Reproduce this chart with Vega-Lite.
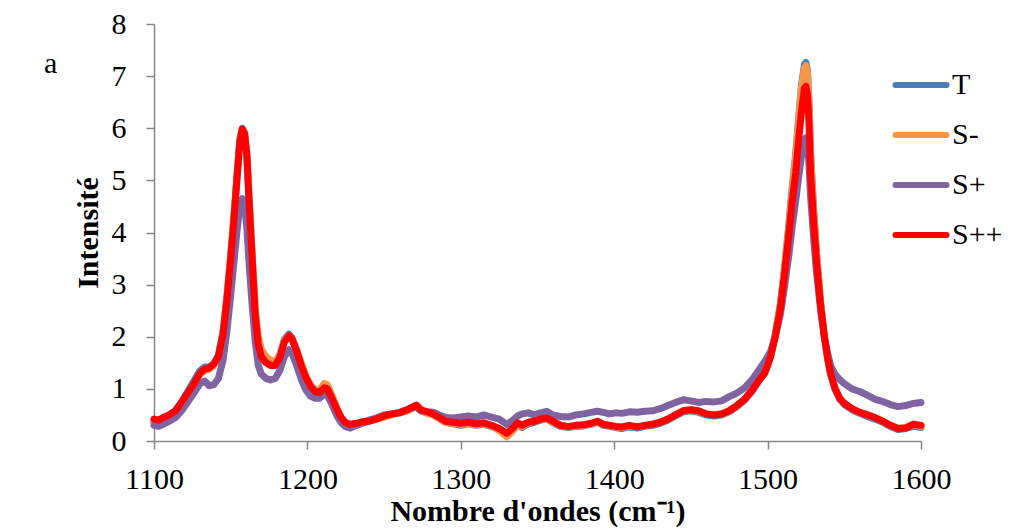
{
  "$schema": "https://vega.github.io/schema/vega-lite/v6.json",
  "autosize": {"type": "none"},
  "width": 767,
  "height": 417,
  "padding": {"left": 154, "top": 24, "right": 91, "bottom": 88},
  "background": "white",
  "title": {"text": "a", "anchor": "start", "frame": "group", "orient": "top", "font": "Liberation Serif", "fontSize": 30, "fontWeight": "normal", "color": "black", "baseline": "alphabetic", "offset": 0, "dx": -110, "dy": 94},
  "config": {
    "view": {"stroke": null},
    "axis": {"grid": false, "domainColor": "#868686", "domainWidth": 1.5, "tickColor": "#868686", "tickWidth": 1.5, "tickSize": 8, "labelFont": "Liberation Serif", "labelFontSize": 30, "labelColor": "black", "titleFont": "Liberation Serif", "titleFontSize": 30, "titleFontWeight": "bold", "titleColor": "black", "labelFlush": false, "labelOverlap": false},
    "legend": {"orient": "none", "legendX": 751, "legendY": 45, "padding": 0, "labelFont": "Liberation Serif", "labelFontSize": 30, "labelColor": "black", "symbolType": "M-2,0H2", "symbolSize": 650, "symbolStrokeWidth": 6, "labelOffset": 15, "rowPadding": 19}
  },
  "datasets": {
    "T": [{"x":1100,"y":0.35},{"x":1103,"y":0.36},{"x":1106,"y":0.42},{"x":1110,"y":0.5},{"x":1114,"y":0.58},{"x":1118,"y":0.75},{"x":1122,"y":0.95},{"x":1126,"y":1.15},{"x":1130,"y":1.35},{"x":1133,"y":1.42},{"x":1136,"y":1.42},{"x":1139,"y":1.48},{"x":1142,"y":1.65},{"x":1145,"y":2.1},{"x":1147.5,"y":2.75},{"x":1150,"y":3.55},{"x":1152,"y":4.25},{"x":1154,"y":5.05},{"x":1156,"y":5.8},{"x":1157.5,"y":6.0},{"x":1159,"y":5.92},{"x":1160.5,"y":5.5},{"x":1162,"y":4.6},{"x":1164,"y":3.5},{"x":1166,"y":2.45},{"x":1168,"y":1.9},{"x":1170,"y":1.68},{"x":1173,"y":1.55},{"x":1176,"y":1.5},{"x":1179,"y":1.5},{"x":1182,"y":1.65},{"x":1185,"y":1.95},{"x":1188,"y":2.05},{"x":1190,"y":1.98},{"x":1193,"y":1.75},{"x":1196,"y":1.45},{"x":1199,"y":1.22},{"x":1202,"y":1.05},{"x":1205,"y":0.95},{"x":1208,"y":0.94},{"x":1211,"y":1.05},{"x":1213,"y":1.02},{"x":1216,"y":0.82},{"x":1219,"y":0.6},{"x":1222,"y":0.42},{"x":1225,"y":0.32},{"x":1228,"y":0.3},{"x":1232,"y":0.33},{"x":1236,"y":0.36},{"x":1240,"y":0.4},{"x":1245,"y":0.44},{"x":1250,"y":0.48},{"x":1255,"y":0.52},{"x":1260,"y":0.54},{"x":1265,"y":0.58},{"x":1269,"y":0.64},{"x":1271,"y":0.66},{"x":1274,"y":0.58},{"x":1278,"y":0.54},{"x":1282,"y":0.5},{"x":1286,"y":0.43},{"x":1290,"y":0.36},{"x":1295,"y":0.33},{"x":1300,"y":0.3},{"x":1305,"y":0.33},{"x":1310,"y":0.3},{"x":1315,"y":0.32},{"x":1320,"y":0.28},{"x":1325,"y":0.22},{"x":1330,"y":0.14},{"x":1334,"y":0.22},{"x":1337,"y":0.3},{"x":1340,"y":0.26},{"x":1344,"y":0.33},{"x":1348,"y":0.36},{"x":1352,"y":0.4},{"x":1356,"y":0.42},{"x":1360,"y":0.35},{"x":1365,"y":0.28},{"x":1370,"y":0.26},{"x":1375,"y":0.28},{"x":1380,"y":0.29},{"x":1385,"y":0.32},{"x":1389,"y":0.36},{"x":1393,"y":0.3},{"x":1397,"y":0.28},{"x":1401,"y":0.26},{"x":1405,"y":0.24},{"x":1410,"y":0.27},{"x":1415,"y":0.25},{"x":1420,"y":0.28},{"x":1425,"y":0.3},{"x":1430,"y":0.34},{"x":1435,"y":0.4},{"x":1440,"y":0.48},{"x":1445,"y":0.56},{"x":1450,"y":0.58},{"x":1455,"y":0.55},{"x":1460,"y":0.5},{"x":1465,"y":0.48},{"x":1470,"y":0.5},{"x":1475,"y":0.56},{"x":1480,"y":0.66},{"x":1485,"y":0.78},{"x":1490,"y":0.96},{"x":1494,"y":1.14},{"x":1498,"y":1.3},{"x":1500,"y":1.46},{"x":1502,"y":1.64},{"x":1505,"y":2.05},{"x":1508.5,"y":2.65},{"x":1511,"y":3.3},{"x":1514,"y":4.2},{"x":1516,"y":4.85},{"x":1518.3,"y":5.5},{"x":1520,"y":6.1},{"x":1522,"y":6.8},{"x":1524,"y":7.22},{"x":1525,"y":7.26},{"x":1526,"y":7.1},{"x":1527,"y":6.5},{"x":1528,"y":5.55},{"x":1530,"y":4.45},{"x":1532,"y":3.55},{"x":1534.6,"y":2.65},{"x":1537,"y":2.0},{"x":1539,"y":1.6},{"x":1541,"y":1.28},{"x":1544,"y":1.0},{"x":1547,"y":0.8},{"x":1550,"y":0.7},{"x":1555,"y":0.6},{"x":1560,"y":0.53},{"x":1565,"y":0.47},{"x":1570,"y":0.42},{"x":1575,"y":0.36},{"x":1580,"y":0.28},{"x":1585,"y":0.22},{"x":1590,"y":0.24},{"x":1595,"y":0.28},{"x":1600,"y":0.26}],
    "Sm": [{"x":1100,"y":0.38},{"x":1103,"y":0.4},{"x":1106,"y":0.44},{"x":1110,"y":0.5},{"x":1114,"y":0.56},{"x":1118,"y":0.72},{"x":1122,"y":0.9},{"x":1126,"y":1.08},{"x":1130,"y":1.28},{"x":1133,"y":1.35},{"x":1136,"y":1.38},{"x":1139,"y":1.45},{"x":1142,"y":1.6},{"x":1145,"y":2.05},{"x":1147.5,"y":2.75},{"x":1150,"y":3.55},{"x":1152,"y":4.25},{"x":1154,"y":5.0},{"x":1156,"y":5.75},{"x":1157.5,"y":5.98},{"x":1159,"y":5.92},{"x":1160.5,"y":5.55},{"x":1162,"y":4.7},{"x":1164,"y":3.6},{"x":1166,"y":2.55},{"x":1168,"y":2.0},{"x":1170,"y":1.75},{"x":1173,"y":1.62},{"x":1176,"y":1.55},{"x":1179,"y":1.52},{"x":1182,"y":1.65},{"x":1185,"y":1.92},{"x":1188,"y":2.02},{"x":1190,"y":1.95},{"x":1193,"y":1.75},{"x":1196,"y":1.5},{"x":1199,"y":1.25},{"x":1202,"y":1.08},{"x":1205,"y":0.98},{"x":1208,"y":0.98},{"x":1211,"y":1.1},{"x":1213,"y":1.08},{"x":1216,"y":0.88},{"x":1219,"y":0.65},{"x":1222,"y":0.45},{"x":1225,"y":0.34},{"x":1228,"y":0.3},{"x":1232,"y":0.33},{"x":1236,"y":0.35},{"x":1240,"y":0.38},{"x":1245,"y":0.42},{"x":1250,"y":0.46},{"x":1255,"y":0.5},{"x":1260,"y":0.54},{"x":1265,"y":0.58},{"x":1269,"y":0.64},{"x":1271,"y":0.66},{"x":1274,"y":0.58},{"x":1278,"y":0.53},{"x":1282,"y":0.5},{"x":1286,"y":0.43},{"x":1290,"y":0.36},{"x":1295,"y":0.34},{"x":1300,"y":0.32},{"x":1305,"y":0.34},{"x":1310,"y":0.31},{"x":1315,"y":0.33},{"x":1320,"y":0.29},{"x":1325,"y":0.2},{"x":1330,"y":0.08},{"x":1334,"y":0.2},{"x":1337,"y":0.3},{"x":1340,"y":0.28},{"x":1344,"y":0.35},{"x":1348,"y":0.38},{"x":1352,"y":0.42},{"x":1356,"y":0.42},{"x":1360,"y":0.36},{"x":1365,"y":0.3},{"x":1370,"y":0.27},{"x":1375,"y":0.29},{"x":1380,"y":0.3},{"x":1385,"y":0.33},{"x":1389,"y":0.37},{"x":1393,"y":0.32},{"x":1397,"y":0.3},{"x":1401,"y":0.27},{"x":1405,"y":0.26},{"x":1410,"y":0.29},{"x":1415,"y":0.27},{"x":1420,"y":0.3},{"x":1425,"y":0.32},{"x":1430,"y":0.36},{"x":1435,"y":0.42},{"x":1440,"y":0.5},{"x":1445,"y":0.58},{"x":1450,"y":0.6},{"x":1455,"y":0.57},{"x":1460,"y":0.52},{"x":1465,"y":0.5},{"x":1470,"y":0.52},{"x":1475,"y":0.58},{"x":1480,"y":0.68},{"x":1485,"y":0.8},{"x":1490,"y":0.98},{"x":1494,"y":1.15},{"x":1498,"y":1.3},{"x":1500,"y":1.46},{"x":1502,"y":1.64},{"x":1505,"y":2.05},{"x":1508.5,"y":2.65},{"x":1511,"y":3.3},{"x":1514,"y":4.15},{"x":1516,"y":4.8},{"x":1518.3,"y":5.45},{"x":1520,"y":6.05},{"x":1522,"y":6.75},{"x":1524,"y":7.15},{"x":1525,"y":7.2},{"x":1526,"y":7.05},{"x":1527,"y":6.45},{"x":1528,"y":5.5},{"x":1530,"y":4.4},{"x":1532,"y":3.55},{"x":1534.6,"y":2.65},{"x":1537,"y":2.02},{"x":1539,"y":1.62},{"x":1541,"y":1.3},{"x":1544,"y":1.02},{"x":1547,"y":0.82},{"x":1550,"y":0.72},{"x":1555,"y":0.62},{"x":1560,"y":0.55},{"x":1565,"y":0.5},{"x":1570,"y":0.45},{"x":1575,"y":0.38},{"x":1580,"y":0.3},{"x":1585,"y":0.24},{"x":1590,"y":0.26},{"x":1595,"y":0.32},{"x":1600,"y":0.28}],
    "Sp": [{"x":1100,"y":0.3},{"x":1103,"y":0.28},{"x":1106,"y":0.32},{"x":1110,"y":0.38},{"x":1114,"y":0.45},{"x":1118,"y":0.58},{"x":1122,"y":0.75},{"x":1126,"y":0.92},{"x":1130,"y":1.1},{"x":1133,"y":1.15},{"x":1136,"y":1.06},{"x":1139,"y":1.08},{"x":1142,"y":1.2},{"x":1145,"y":1.55},{"x":1147.5,"y":2.1},{"x":1150,"y":2.8},{"x":1152,"y":3.4},{"x":1154,"y":4.0},{"x":1156,"y":4.5},{"x":1157.5,"y":4.65},{"x":1159,"y":4.55},{"x":1160.5,"y":4.1},{"x":1162,"y":3.4},{"x":1164,"y":2.6},{"x":1166,"y":1.9},{"x":1168,"y":1.45},{"x":1170,"y":1.28},{"x":1173,"y":1.2},{"x":1176,"y":1.17},{"x":1179,"y":1.2},{"x":1182,"y":1.35},{"x":1185,"y":1.62},{"x":1188,"y":1.75},{"x":1190,"y":1.68},{"x":1193,"y":1.45},{"x":1196,"y":1.18},{"x":1199,"y":0.98},{"x":1202,"y":0.86},{"x":1205,"y":0.82},{"x":1208,"y":0.82},{"x":1211,"y":0.9},{"x":1213,"y":0.88},{"x":1216,"y":0.7},{"x":1219,"y":0.5},{"x":1222,"y":0.35},{"x":1225,"y":0.27},{"x":1228,"y":0.25},{"x":1232,"y":0.3},{"x":1236,"y":0.34},{"x":1240,"y":0.38},{"x":1245,"y":0.44},{"x":1250,"y":0.5},{"x":1255,"y":0.52},{"x":1260,"y":0.55},{"x":1265,"y":0.6},{"x":1269,"y":0.64},{"x":1271,"y":0.65},{"x":1274,"y":0.58},{"x":1278,"y":0.56},{"x":1282,"y":0.55},{"x":1286,"y":0.5},{"x":1290,"y":0.45},{"x":1295,"y":0.44},{"x":1300,"y":0.46},{"x":1305,"y":0.48},{"x":1310,"y":0.46},{"x":1315,"y":0.5},{"x":1320,"y":0.46},{"x":1325,"y":0.42},{"x":1330,"y":0.32},{"x":1334,"y":0.4},{"x":1337,"y":0.48},{"x":1340,"y":0.52},{"x":1344,"y":0.54},{"x":1348,"y":0.5},{"x":1352,"y":0.54},{"x":1356,"y":0.57},{"x":1360,"y":0.5},{"x":1365,"y":0.47},{"x":1370,"y":0.46},{"x":1375,"y":0.5},{"x":1380,"y":0.52},{"x":1385,"y":0.55},{"x":1389,"y":0.57},{"x":1393,"y":0.55},{"x":1397,"y":0.52},{"x":1401,"y":0.54},{"x":1405,"y":0.53},{"x":1410,"y":0.56},{"x":1415,"y":0.55},{"x":1420,"y":0.57},{"x":1425,"y":0.58},{"x":1430,"y":0.62},{"x":1435,"y":0.68},{"x":1440,"y":0.74},{"x":1445,"y":0.79},{"x":1450,"y":0.77},{"x":1455,"y":0.74},{"x":1460,"y":0.76},{"x":1465,"y":0.75},{"x":1470,"y":0.77},{"x":1475,"y":0.85},{"x":1480,"y":0.92},{"x":1485,"y":1.02},{"x":1490,"y":1.18},{"x":1494,"y":1.35},{"x":1498,"y":1.52},{"x":1500,"y":1.62},{"x":1502,"y":1.72},{"x":1505,"y":2.0},{"x":1508.5,"y":2.45},{"x":1511,"y":2.95},{"x":1514,"y":3.6},{"x":1516,"y":4.1},{"x":1518.3,"y":4.6},{"x":1520,"y":5.0},{"x":1522,"y":5.45},{"x":1524,"y":5.78},{"x":1525,"y":5.82},{"x":1526,"y":5.7},{"x":1527,"y":5.3},{"x":1528,"y":4.7},{"x":1530,"y":3.9},{"x":1532,"y":3.2},{"x":1534.6,"y":2.5},{"x":1537,"y":2.0},{"x":1539,"y":1.7},{"x":1541,"y":1.45},{"x":1544,"y":1.28},{"x":1547,"y":1.18},{"x":1550,"y":1.1},{"x":1555,"y":1.0},{"x":1560,"y":0.95},{"x":1565,"y":0.88},{"x":1570,"y":0.8},{"x":1575,"y":0.76},{"x":1580,"y":0.7},{"x":1585,"y":0.66},{"x":1590,"y":0.68},{"x":1595,"y":0.72},{"x":1600,"y":0.74}],
    "Spp": [{"x":1100,"y":0.42},{"x":1103,"y":0.4},{"x":1106,"y":0.45},{"x":1110,"y":0.5},{"x":1114,"y":0.58},{"x":1118,"y":0.75},{"x":1122,"y":0.92},{"x":1126,"y":1.1},{"x":1130,"y":1.3},{"x":1133,"y":1.38},{"x":1136,"y":1.4},{"x":1139,"y":1.48},{"x":1142,"y":1.62},{"x":1145,"y":2.05},{"x":1147.5,"y":2.7},{"x":1150,"y":3.5},{"x":1152,"y":4.2},{"x":1154,"y":5.0},{"x":1156,"y":5.75},{"x":1157.5,"y":5.98},{"x":1159,"y":5.9},{"x":1160.5,"y":5.5},{"x":1162,"y":4.6},{"x":1164,"y":3.5},{"x":1166,"y":2.4},{"x":1168,"y":1.85},{"x":1170,"y":1.62},{"x":1173,"y":1.5},{"x":1176,"y":1.45},{"x":1179,"y":1.45},{"x":1182,"y":1.6},{"x":1185,"y":1.9},{"x":1188,"y":2.02},{"x":1190,"y":1.95},{"x":1193,"y":1.72},{"x":1196,"y":1.45},{"x":1199,"y":1.22},{"x":1202,"y":1.05},{"x":1205,"y":0.95},{"x":1208,"y":0.93},{"x":1211,"y":1.02},{"x":1213,"y":1.0},{"x":1216,"y":0.82},{"x":1219,"y":0.62},{"x":1222,"y":0.45},{"x":1225,"y":0.35},{"x":1228,"y":0.32},{"x":1232,"y":0.34},{"x":1236,"y":0.37},{"x":1240,"y":0.38},{"x":1245,"y":0.42},{"x":1250,"y":0.48},{"x":1255,"y":0.52},{"x":1260,"y":0.54},{"x":1265,"y":0.6},{"x":1269,"y":0.66},{"x":1271,"y":0.69},{"x":1274,"y":0.6},{"x":1278,"y":0.56},{"x":1282,"y":0.52},{"x":1286,"y":0.45},{"x":1290,"y":0.38},{"x":1295,"y":0.36},{"x":1300,"y":0.34},{"x":1305,"y":0.36},{"x":1310,"y":0.33},{"x":1315,"y":0.35},{"x":1320,"y":0.3},{"x":1325,"y":0.24},{"x":1330,"y":0.15},{"x":1334,"y":0.25},{"x":1337,"y":0.35},{"x":1340,"y":0.3},{"x":1344,"y":0.36},{"x":1348,"y":0.38},{"x":1352,"y":0.42},{"x":1356,"y":0.44},{"x":1360,"y":0.38},{"x":1365,"y":0.3},{"x":1370,"y":0.28},{"x":1375,"y":0.3},{"x":1380,"y":0.31},{"x":1385,"y":0.34},{"x":1389,"y":0.38},{"x":1393,"y":0.32},{"x":1397,"y":0.3},{"x":1401,"y":0.28},{"x":1405,"y":0.27},{"x":1410,"y":0.3},{"x":1415,"y":0.27},{"x":1420,"y":0.3},{"x":1425,"y":0.32},{"x":1430,"y":0.36},{"x":1435,"y":0.42},{"x":1440,"y":0.5},{"x":1445,"y":0.58},{"x":1450,"y":0.6},{"x":1455,"y":0.58},{"x":1460,"y":0.52},{"x":1465,"y":0.5},{"x":1470,"y":0.52},{"x":1475,"y":0.58},{"x":1480,"y":0.68},{"x":1485,"y":0.8},{"x":1490,"y":0.98},{"x":1494,"y":1.15},{"x":1498,"y":1.3},{"x":1500,"y":1.45},{"x":1502,"y":1.62},{"x":1505,"y":2.0},{"x":1508.5,"y":2.58},{"x":1511,"y":3.2},{"x":1514,"y":4.0},{"x":1516,"y":4.6},{"x":1518.3,"y":5.14},{"x":1520,"y":5.7},{"x":1522,"y":6.3},{"x":1524,"y":6.77},{"x":1525,"y":6.8},{"x":1526,"y":6.65},{"x":1527,"y":6.1},{"x":1528,"y":5.14},{"x":1530,"y":4.2},{"x":1532,"y":3.4},{"x":1534.6,"y":2.58},{"x":1537,"y":2.0},{"x":1539,"y":1.62},{"x":1541,"y":1.3},{"x":1544,"y":1.0},{"x":1547,"y":0.82},{"x":1550,"y":0.72},{"x":1555,"y":0.62},{"x":1560,"y":0.55},{"x":1565,"y":0.5},{"x":1570,"y":0.45},{"x":1575,"y":0.38},{"x":1580,"y":0.3},{"x":1585,"y":0.24},{"x":1590,"y":0.25},{"x":1595,"y":0.32},{"x":1600,"y":0.3}]
  },
  "encoding": {
    "x": {"field": "x", "type": "quantitative", "scale": {"domain": [1100, 1600], "nice": false, "zero": false}, "axis": {"values": [1100, 1200, 1300, 1400, 1500, 1600], "format": "d", "labelPadding": 15, "titlePadding": 2, "title": "Nombre d'ondes (cm⁻¹)"}},
    "y": {"field": "y", "type": "quantitative", "scale": {"domain": [0, 8], "nice": false}, "axis": {"values": [0, 1, 2, 3, 4, 5, 6, 7, 8], "format": "d", "labelPadding": 20, "titlePadding": 8, "title": "Intensité"}}
  },
  "layer": [
    {"data": {"name": "T"}, "mark": {"type": "line", "strokeWidth": 7, "strokeCap": "round", "strokeJoin": "round"},
     "encoding": {"color": {"datum": "T", "type": "nominal", "scale": {"domain": ["T", "S-", "S+", "S++"], "range": ["#4A7EBB", "#F79646", "#8064A2", "#FF0000"]}, "legend": {"title": null, "encode": {"symbols": {"update": {"strokeCap": {"value": "round"}}}}}}}},
    {"data": {"name": "Sm"}, "mark": {"type": "line", "strokeWidth": 7, "strokeCap": "round", "strokeJoin": "round"},
     "encoding": {"color": {"datum": "S-", "type": "nominal"}}},
    {"data": {"name": "Sp"}, "mark": {"type": "line", "strokeWidth": 7, "strokeCap": "round", "strokeJoin": "round"},
     "encoding": {"color": {"datum": "S+", "type": "nominal"}}},
    {"data": {"name": "Spp"}, "mark": {"type": "line", "strokeWidth": 7, "strokeCap": "round", "strokeJoin": "round"},
     "encoding": {"color": {"datum": "S++", "type": "nominal"}}}
  ]
}
